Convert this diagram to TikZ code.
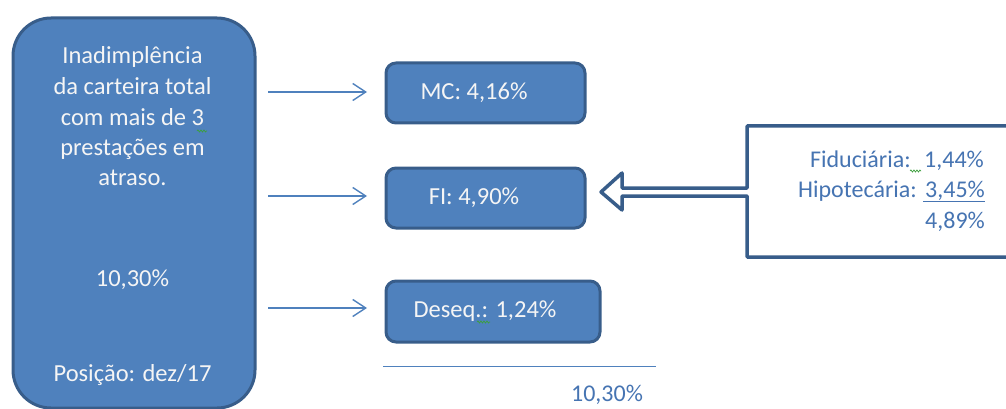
\documentclass[tikz,border=0pt]{standalone}
\usepackage{fontspec}
\setmainfont{Carlito}
\usetikzlibrary{arrows.meta,decorations.pathmorphing}
\definecolor{fillblue}{RGB}{79,129,189}
\definecolor{edgeblue}{RGB}{56,93,138}
\definecolor{txtwhite}{RGB}{245,245,245}
\definecolor{txtblue}{RGB}{70,116,178}
\definecolor{squig}{RGB}{60,160,60}
\begin{document}
\begin{tikzpicture}[x=1pt,y=-1pt,
  bigbox/.style={draw=edgeblue,fill=fillblue,line width=3pt,rounded corners=38pt,inner sep=0pt},
  smallbox/.style={draw=edgeblue,fill=fillblue,line width=3pt,rounded corners=10pt,inner sep=0pt},
  wtxt/.style={text=txtwhite,font=\fontsize{24.5}{30}\selectfont,inner sep=0pt,anchor=base},
  btxt/.style={text=txtblue,font=\fontsize{24}{30}\selectfont,inner sep=0pt,anchor=base east},
  conn/.style={draw=fillblue,line width=1.4pt,-{Straight Barb[length=13pt,width=17pt,line width=1.4pt]}},
  callout/.style={draw=edgeblue,fill=white,line width=3.5pt,line join=round},
  squiggle/.style={draw=squig,line width=0.7pt,decorate,decoration={snake,amplitude=1pt,segment length=3pt}},
]
\useasboundingbox (0,0) rectangle (1006,409);

% left box
\node[bigbox,minimum width=242pt,minimum height=390pt,anchor=north west] (left) at (11.5,16.5) {};
\node[wtxt] (l1) at (132.5,64) {Inadimplência};
\node[wtxt] (l2) at (132.5,95) {da carteira total};
\node[wtxt] (l3) at (132.5,125) {com mais de 3};
\node[wtxt] (l4) at (132.5,155) {prestações em};
\node[wtxt] (l5) at (132.5,185) {atraso.};
\node[wtxt] (lpct) at (132.5,286) {10,30\%};
\node[wtxt] (lpos) at (132.5,381) {Posição: dez/17};
\draw[squiggle] (197,131) -- (207,131);

% small boxes
\node[smallbox,minimum width=199pt,minimum height=60pt,anchor=north west] (mc) at (384.5,61.5) {};
\node[wtxt] (mctxt) at (474,100) {MC: 4,16\%};
\node[smallbox,minimum width=199pt,minimum height=60pt,anchor=north west] (fi) at (384.5,166.5) {};
\node[wtxt] (fitxt) at (474,204) {FI: 4,90\%};
\node[smallbox,minimum width=214pt,minimum height=61pt,anchor=north west] (deseq) at (384.5,279.5) {};
\node[wtxt] (deseqtxt) at (485,317) {Deseq.: 1,24\%};
\draw[squiggle] (477,322) -- (490,322);

% connectors
\coordinate (s1) at (268,92);
\coordinate (s2) at (268,196);
\coordinate (s3) at (268,308);
\coordinate (e1) at (367,92);
\coordinate (e2) at (367,196);
\coordinate (e3) at (367,308);
\draw[conn] (s1) -- (e1);
\draw[conn] (s2) -- (e2);
\draw[conn] (s3) -- (e3);

% callout
\draw[callout] (747,126) -- (1015,126) -- (1015,257) -- (747,257) -- (747,196)
  -- (622,196) -- (622,210) -- (601,192) -- (622,173) -- (622,188) -- (747,188) -- cycle;
\node[btxt] (fid) at (911,167) {Fiduciária:};
\node[btxt] (fidv) at (984,167) {1,44\%};
\node[btxt] (hip) at (917,197) {Hipotecária:};
\node[btxt] (hipv) at (985,197) {3,45\%};
\node[btxt] (tot) at (985,228) {4,89\%};
\draw[draw=txtblue,line width=1.2pt] (923,201.5) -- (985,201.5);
\draw[squiggle] (910,171) -- (921,171);

% bottom sum
\coordinate (b1) at (383,366);
\coordinate (b2) at (656,366);
\draw[draw=fillblue,line width=1pt] (b1) -- (b2);
\node[text=txtblue,font=\fontsize{24}{30}\selectfont,inner sep=0pt,anchor=base] (sum) at (607,401) {10,30\%};
\end{tikzpicture}
\end{document}
